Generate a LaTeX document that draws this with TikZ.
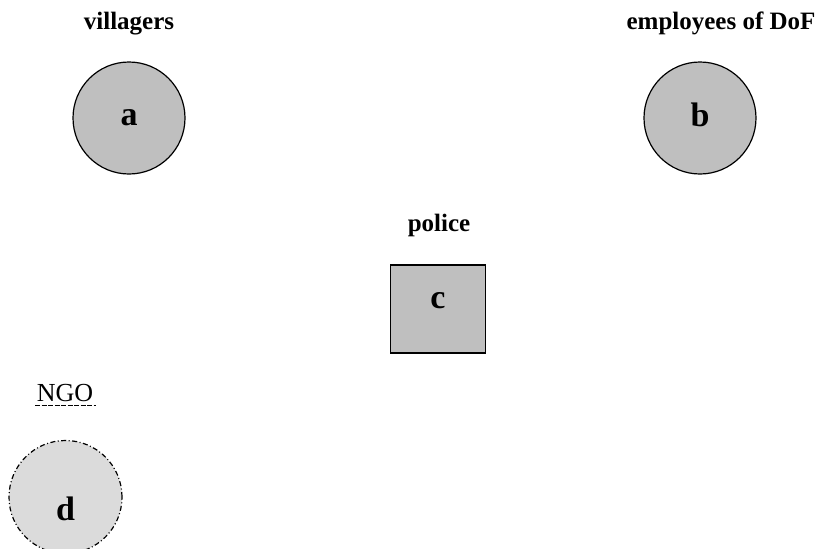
\documentclass[tikz,border=0pt]{standalone}
\usepackage{fontspec}
\setmainfont{Liberation Serif}
\begin{document}
\begin{tikzpicture}[x=1pt,y=-1pt,
  actor/.style={circle,draw=black,line width=1.2pt,fill=gray!50!white,minimum size=112pt,inner sep=0pt},
  ngoactor/.style={circle,draw=black,line width=1.2pt,fill=black!14,minimum size=113pt,inner sep=0pt,dash pattern=on 5pt off 2.5pt on 1pt off 2.5pt},
  boxactor/.style={rectangle,draw=black,line width=1.2pt,fill=gray!50!white,minimum width=95pt,minimum height=88pt,inner sep=0pt},
  lettertxt/.style={anchor=base,inner sep=0pt,font=\fontsize{34}{36}\selectfont\bfseries},
  labeltxt/.style={anchor=base,inner sep=0pt,font=\fontsize{25}{27}\selectfont\bfseries},
  plaintxt/.style={anchor=base,inner sep=0pt,font=\fontsize{26}{28}\selectfont}]
\useasboundingbox (0,0) rectangle (825,549);
% shapes
\node[actor] (a) at (129,118) {};
\node[actor] (b) at (700,118) {};
\node[boxactor] (c) at (438,309) {};
\begin{scope}
\clip (0,0) rectangle (825,549);
\node[ngoactor] (d) at (65.5,497) {};
\end{scope}
% letters
\node[lettertxt] (ta) at (129,125) {a};
\node[lettertxt] (tb) at (700,126) {b};
\node[lettertxt] (tc) at (438,308) {c};
\node[lettertxt] (td) at (65.5,520) {d};
% labels
\node[labeltxt] (la) at (129,29) {villagers};
\node[labeltxt] (lb) at (721,29) {employees of DoF};
\node[labeltxt] (lc) at (439,231) {police};
\node[plaintxt] (ld) at (65,401) {NGO};
\coordinate (u1) at (35,405);
\coordinate (u2) at (96,405);
\draw[line width=0.6pt,dash pattern=on 5pt off 1.5pt] (u1) -- (u2);
\end{tikzpicture}
\end{document}
